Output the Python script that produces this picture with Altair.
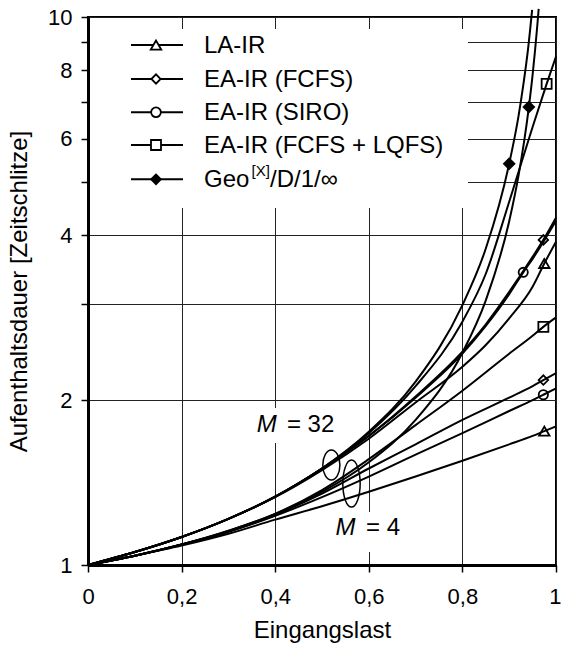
import altair as alt
import pandas as pd

# ---------------- data ----------------
# x = Eingangslast, y = Aufenthaltsdauer [Zeitschlitze]
X_LA4 = [0, 0.1, 0.2, 0.3, 0.4, 0.5, 0.6, 0.7, 0.8, 0.9, 0.95, 0.975, 1.0]
Y_LA4 = [1.0, 1.04, 1.085, 1.14, 1.21, 1.28, 1.36, 1.45, 1.55, 1.66, 1.72, 1.755, 1.79]

X_SIRO4 = [0, 0.1, 0.2, 0.3, 0.4, 0.5, 0.6, 0.7, 0.8, 0.9, 0.95, 0.973, 1.0]
Y_SIRO4 = [1.0, 1.04, 1.09, 1.15, 1.23, 1.33, 1.45, 1.59, 1.74, 1.91, 2.0, 2.045, 2.10]

X_FCFS4 = [0, 0.1, 0.2, 0.3, 0.4, 0.5, 0.6, 0.7, 0.8, 0.9, 0.95, 0.973, 1.0]
Y_FCFS4 = [1.0, 1.04, 1.09, 1.15, 1.235, 1.35, 1.50, 1.66, 1.84, 2.02, 2.12, 2.175, 2.24]

X_LQFS4 = [0, 0.1, 0.2, 0.3, 0.4, 0.5, 0.6, 0.7, 0.8, 0.9, 0.95, 0.973, 1.0]
Y_LQFS4 = [1.0, 1.04, 1.09, 1.155, 1.24, 1.37, 1.56, 1.80, 2.08, 2.43, 2.62, 2.72, 2.83]

X_GEO4 = [0, 0.1, 0.2, 0.3, 0.4, 0.5, 0.6, 0.7, 0.8, 0.85, 0.9, 0.92, 0.942, 0.95, 0.96, 0.963]
Y_GEO4 = [1.0, 1.04, 1.09, 1.154, 1.24, 1.36, 1.54, 1.84, 2.44, 3.04, 4.24, 5.14, 6.85, 7.84, 9.64, 10.35]

X_LA32 = [0, 0.1, 0.2, 0.3, 0.4, 0.5, 0.6, 0.7, 0.8, 0.85, 0.9, 0.95, 0.975, 1.0]
Y_LA32 = [1.0, 1.056, 1.125, 1.214, 1.33, 1.49, 1.70, 1.98, 2.30, 2.52, 2.82, 3.22, 3.55, 3.89]

X_SIRO32 = [0, 0.1, 0.2, 0.3, 0.4, 0.5, 0.6, 0.7, 0.8, 0.85, 0.9, 0.93, 0.95, 1.0]
Y_SIRO32 = [1.0, 1.056, 1.125, 1.214, 1.333, 1.5, 1.72, 2.02, 2.43, 2.73, 3.12, 3.42, 3.62, 4.25]

X_FCFS32 = [0, 0.1, 0.2, 0.3, 0.4, 0.5, 0.6, 0.7, 0.8, 0.85, 0.9, 0.95, 0.973, 1.0]
Y_FCFS32 = [1.0, 1.056, 1.125, 1.214, 1.333, 1.5, 1.72, 2.03, 2.45, 2.75, 3.15, 3.65, 3.92, 4.30]

X_LQFS32 = [0, 0.1, 0.2, 0.3, 0.4, 0.5, 0.6, 0.7, 0.8, 0.85, 0.9, 0.95, 0.98, 1.0]
Y_LQFS32 = [1.0, 1.056, 1.125, 1.214, 1.333, 1.5, 1.74, 2.12, 2.78, 3.4, 4.6, 6.3, 7.55, 8.47]

X_GEO32 = [0, 0.1, 0.2, 0.3, 0.4, 0.5, 0.6, 0.7, 0.8, 0.85, 0.9, 0.92, 0.93, 0.94, 0.949]
Y_GEO32 = [1.0, 1.056, 1.125, 1.214, 1.333, 1.5, 1.75, 2.16, 2.98, 3.78, 5.4, 6.6, 7.5, 8.7, 10.3]

SERIES = {
    "LA-IR M4": (X_LA4, Y_LA4), "SIRO M4": (X_SIRO4, Y_SIRO4),
    "FCFS M4": (X_FCFS4, Y_FCFS4), "LQFS M4": (X_LQFS4, Y_LQFS4),
    "GEO M4": (X_GEO4, Y_GEO4),
    "LA-IR M32": (X_LA32, Y_LA32), "SIRO M32": (X_SIRO32, Y_SIRO32),
    "FCFS M32": (X_FCFS32, Y_FCFS32), "LQFS M32": (X_LQFS32, Y_LQFS32),
    "GEO M32": (X_GEO32, Y_GEO32),
}

# marker position (x) on each curve
MARKER_X = {
    "LA-IR M4": 0.975, "SIRO M4": 0.973, "FCFS M4": 0.973, "LQFS M4": 0.973,
    "GEO M4": 0.942, "LA-IR M32": 0.975, "SIRO M32": 0.93, "FCFS M32": 0.973,
    "LQFS M32": 0.98, "GEO M32": 0.9,
}

LEGEND_LABELS = ["LA-IR", "EA-IR (FCFS)", "EA-IR (SIRO)", "EA-IR (FCFS + LQFS)"]

# ---------------- styles ----------------
FAMILY_STYLE = {  # shape, size, filled
    "LA-IR": ("triangle-up", 110, False),
    "FCFS": ("diamond", 90, False),
    "SIRO": ("circle", 85, False),
    "LQFS": ("square", 100, False),
    "GEO": ("diamond", 170, True),
}

rows = []
for name, (xs, ys) in SERIES.items():
    for xv, yv in zip(xs, ys):
        rows.append({"series": name, "x": xv, "y": yv})
df = pd.DataFrame(rows)

mrows = []
for name, mx in MARKER_X.items():
    xs, ys = SERIES[name]
    yv = ys[xs.index(mx)]
    fam = name.split(" ")[0]
    shp, sz, filled = FAMILY_STYLE[fam]
    mrows.append({"series": name, "x": mx, "y": yv, "shape": shp, "size": sz, "filled": filled})
mdf = pd.DataFrame(mrows)

FONT = "Liberation Sans"

x_scale = alt.Scale(domain=[0, 1], nice=False, zero=False)
y_scale = alt.Scale(type="log", domain=[1, 10], nice=False)

x_axis = alt.Axis(
    values=[0, 0.2, 0.4, 0.6, 0.8, 1.0],
    labelExpr="replace(format(datum.value, '.1~f'), '.', ',')",
    labelAlign=alt.ExprRef("datum.value == 1 ? 'right' : 'center'"),
    labelOffset=alt.ExprRef("datum.value == 1 ? 5 : 0"),
    title="Eingangslast", grid=True, gridColor="#222", gridWidth=1,
    tickSize=7, tickColor="black", tickWidth=1.5,
    domainColor="black", domainWidth=3, labelFlush=False, labelOverlap=False,
    labelPadding=14, titlePadding=11, labelFontSize=22, titleFontSize=24,
    labelColor="black", titleColor="black", titleFontWeight="normal",
    labelFont=FONT, titleFont=FONT,
)
y_axis = alt.Axis(
    values=[1, 2, 3, 4, 5, 6, 7, 8, 9, 10], format="d",
    labelExpr="(datum.value == 3 || datum.value == 5 || datum.value == 7 || datum.value == 9) ? '' : datum.label",
    title="Aufenthaltsdauer [Zeitschlitze]", grid=True, gridColor="#222", gridWidth=1,
    tickSize=7, tickColor="black", tickWidth=1.5,
    domainColor="black", domainWidth=3, labelOverlap=False, labelFlush=False,
    labelPadding=9, titlePadding=16, labelFontSize=22, titleFontSize=24,
    labelColor="black", titleColor="black", titleFontWeight="normal",
    labelFont=FONT, titleFont=FONT,
)

X = alt.X("x:Q", scale=x_scale, axis=x_axis)
Y = alt.Y("y:Q", scale=y_scale, axis=y_axis)

one = pd.DataFrame({"a": [0]})

# white box behind legend (hides grid lines)
legend_box = alt.Chart(one).mark_rect(color="white").encode(
    x=alt.value(2), x2=alt.value(380), y=alt.value(12), y2=alt.value(191)
)

# white boxes behind the M labels
ANN_BOX = pd.DataFrame({
    "x": [0.346, 0.517], "x2": [0.538, 0.671],
    "y": [1.67, 1.056], "y2": [1.934, 1.249],
})
ann_boxes = alt.Chart(ANN_BOX).mark_rect(color="white").encode(
    x=alt.X("x:Q", scale=x_scale, axis=x_axis), x2="x2:Q",
    y=alt.Y("y:Q", scale=y_scale, axis=y_axis), y2="y2:Q",
)

lines = alt.Chart(df).mark_line(
    interpolate="monotone", color="black", strokeWidth=2, clip=False
).encode(x=X, y=Y, detail="series:N", order="x:Q")

open_pts = alt.Chart(mdf[~mdf["filled"]]).mark_point(
    filled=False, color="black", strokeWidth=1.8, opacity=1
).encode(x=X, y=Y, shape=alt.Shape("shape:N", scale=None), size=alt.Size("size:Q", scale=None))

filled_pts = alt.Chart(mdf[mdf["filled"]]).mark_point(
    filled=True, color="black", opacity=1
).encode(x=X, y=Y, shape=alt.Shape("shape:N", scale=None), size=alt.Size("size:Q", scale=None))

# M annotations
ANN_M = pd.DataFrame({"x": [0.3605, 0.529], "y": [1.80, 1.168]})
ANN_REST = pd.DataFrame({"x": [0.425, 0.594], "y": [1.80, 1.168], "t": ["= 32", "= 4"]})
ann_m = alt.Chart(ANN_M).mark_text(
    text="M", fontStyle="italic", fontSize=24, font=FONT, align="left", baseline="middle", color="black"
).encode(x=X, y=Y)
ann_rest = alt.Chart(ANN_REST).mark_text(
    fontSize=24, font=FONT, align="left", baseline="middle", color="black"
).encode(x=X, y=Y, text="t:N")

# loops around the curve bundles
LOOPS = pd.DataFrame({"x": [0.520, 0.563], "y": [1.522, 1.408], "size": [900, 2200],
                      "shape": ["M0,-1 A0.57,1 0 1,1 0,1 A0.57,1 0 1,1 0,-1 Z",
                                "M0,-1 A0.37,1 0 1,1 0,1 A0.37,1 0 1,1 0,-1 Z"]})
loops = alt.Chart(LOOPS).mark_point(filled=False, color="black", strokeWidth=1.5, opacity=1).encode(
    x=X, y=Y, shape=alt.Shape("shape:N", scale=None), size=alt.Size("size:Q", scale=None)
)

# legend (custom, inside plot area)
LEG_Y = [28, 62, 95.3, 128, 162.3]
LEG_FAM = ["LA-IR", "FCFS", "SIRO", "LQFS", "GEO"]
LEG_SIZE = {"LA-IR": 110, "FCFS": 85, "SIRO": 95, "LQFS": 100, "GEO": 150}
legend_layers = []
for i, fam in enumerate(LEG_FAM):
    ly = LEG_Y[i]
    shp, _, filled = FAMILY_STYLE[fam]
    legend_layers.append(alt.Chart(one).mark_rule(color="black", strokeWidth=2).encode(
        x=alt.value(43), x2=alt.value(95), y=alt.value(ly)))
    legend_layers.append(alt.Chart(one).mark_point(
        shape=shp, filled=filled, color="black", strokeWidth=1.8, opacity=1,
        size=LEG_SIZE[fam], fill="black" if filled else "white").encode(
        x=alt.value(68), y=alt.value(ly)))
    if fam != "GEO":
        legend_layers.append(alt.Chart(one).mark_text(
            text=LEGEND_LABELS[i], fontSize=24, font=FONT, align="left",
            baseline="middle", color="black").encode(x=alt.value(116), y=alt.value(ly + 1)))
    else:
        legend_layers.append(alt.Chart(one).mark_text(
            text="Geo", fontSize=24, font=FONT, align="left", baseline="middle", color="black"
        ).encode(x=alt.value(116), y=alt.value(ly + 1)))
        legend_layers.append(alt.Chart(one).mark_text(
            text="[X]", fontSize=15, font=FONT, align="left", baseline="middle", color="black"
        ).encode(x=alt.value(163.5), y=alt.value(ly - 8)))
        legend_layers.append(alt.Chart(one).mark_text(
            text="/D/1/\u221e", fontSize=24, font=FONT, align="left", baseline="middle", color="black"
        ).encode(x=alt.value(182), y=alt.value(ly + 1)))

chart = alt.layer(
    ann_boxes, legend_box, lines, open_pts, filled_pts, loops, ann_m, ann_rest, *legend_layers
).properties(
    width=468, height=548,
    autosize=alt.AutoSizeParams(type="none"),
    padding={"left": 88, "top": 17, "right": 5, "bottom": 87},
    background="white",
).configure_view(stroke="black", strokeWidth=2)

chart.save("out.html", embed_options={"renderer": "svg", "actions": False})
